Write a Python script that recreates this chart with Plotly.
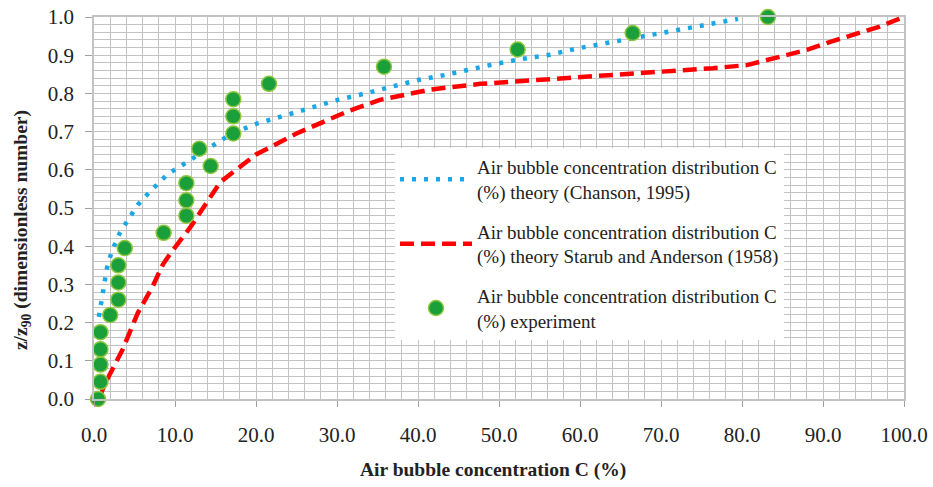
import plotly.graph_objects as go

# Chanson (1995) theory - blue dotted
chanson_x = [0.6, 1.0, 1.2, 1.6, 2.2, 3.2, 4.2, 5.4, 7.0, 8.0, 9.1, 10.5, 11.9, 14.0, 17.0,
             20.0, 23.0, 26.7, 30.1, 33.5, 36.8, 40.0, 43.3, 46.4, 49.5, 52.8, 56.0, 60.0,
             63.3, 66.5, 69.9, 73.0, 76.3, 79.5]
chanson_y = [0.215, 0.26, 0.298, 0.343, 0.387, 0.435, 0.469, 0.508, 0.545, 0.565, 0.589, 0.607,
             0.626, 0.655, 0.695, 0.72, 0.738, 0.762, 0.783, 0.80, 0.817, 0.835, 0.848, 0.864,
             0.877, 0.89, 0.90, 0.919, 0.932, 0.945, 0.958, 0.969, 0.982, 0.995]

# Straub and Anderson (1958) theory - red dashed
straub_x = [0.6, 1.4, 3.5, 5.4, 7.2, 8.5, 9.4, 11.9, 15.6, 20.0, 25.0, 31.2, 35.3, 41.5, 47.7,
            53.8, 60.0, 66.2, 72.0, 76.4, 80.6, 83.8, 88.0, 90.9, 94.2, 97.0, 100.0]
straub_y = [0.0, 0.042, 0.128, 0.225, 0.293, 0.352, 0.38, 0.45, 0.568, 0.64, 0.695, 0.752,
            0.783, 0.81, 0.825, 0.834, 0.843, 0.851, 0.858, 0.866, 0.874, 0.89, 0.914, 0.935,
            0.958, 0.975, 1.0]

# Experiment - green points
exp_x = [0.5, 0.8, 0.8, 0.8, 0.8, 2.0, 3.0, 3.0, 3.0, 3.8, 8.6, 11.4, 11.4, 11.4, 13.0, 14.4,
         17.2, 17.2, 17.2, 21.6, 35.8, 52.3, 66.5, 83.2]
exp_y = [0.0, 0.045, 0.09, 0.13, 0.175, 0.22, 0.26, 0.305, 0.35, 0.395, 0.435, 0.48, 0.52,
         0.565, 0.655, 0.61, 0.695, 0.74, 0.785, 0.825, 0.87, 0.915, 0.958, 1.0]

names = [
    "Air bubble concentration distribution C<br>(%) theory (Chanson, 1995)",
    "Air bubble concentration distribution C<br>(%) theory Starub and Anderson (1958)",
    "Air bubble concentration distribution C<br>(%) experiment",
]

SERIF = "Liberation Serif, Times New Roman, serif"
TXT = "#222222"
GRID = "#c3c3c3"

fig = go.Figure()
fig.add_trace(go.Scatter(x=chanson_x, y=chanson_y, mode="lines", name=names[0],
                         line=dict(color="#1aa7e6", width=4.5, dash="4px,8px"),
                         legendrank=1, legendgroup="a"))
fig.add_trace(go.Scatter(x=straub_x, y=straub_y, mode="lines", name=names[1],
                         line=dict(color="#ff0000", width=4.5, dash="14px,7px"),
                         legendrank=2, legendgroup="b"))
fig.add_trace(go.Scatter(x=exp_x, y=exp_y, mode="markers", name=names[2],
                         marker=dict(size=15, color="#1a9f3a",
                                     line=dict(color="#8cc63f", width=1.5)),
                         legendrank=3, legendgroup="c", cliponaxis=False))

fig.update_layout(
    template="none",
    width=933, height=487,
    margin=dict(l=94, r=29, t=17, b=88, autoexpand=False),
    paper_bgcolor="white", plot_bgcolor="white",
    font=dict(family=SERIF, size=19, color=TXT),
    showlegend=True,
    legend=dict(x=0.3716, y=0.657, xanchor="left", yanchor="top",
                bgcolor="white", borderwidth=0,
                font=dict(family=SERIF, size=19, color=TXT),
                itemwidth=72, tracegroupgap=12, traceorder="grouped"),
    xaxis=dict(range=[0, 100], dtick=10, tickformat=".1f", automargin=False,
               showgrid=True, gridcolor=GRID, gridwidth=1.3,
               minor=dict(dtick=2, showgrid=True, gridcolor=GRID, gridwidth=1.3),
               showline=True, linecolor=GRID, linewidth=1.5,
               ticks="outside", ticklen=6, tickcolor="#a0a0a0",
               tickfont=dict(family=SERIF, size=21, color=TXT),
               ticklabeloverflow="allow",
               zeroline=False, mirror=True, ticklabelstandoff=10),
    yaxis=dict(range=[0, 1.0], dtick=0.1, tickformat=".1f", automargin=False,
               showgrid=True, gridcolor=GRID, gridwidth=1.3,
               minor=dict(dtick=0.02, showgrid=True, gridcolor=GRID, gridwidth=1.3),
               showline=True, linecolor=GRID, linewidth=1.5,
               ticks="outside", ticklen=7, tickcolor="#a0a0a0",
               tickfont=dict(family=SERIF, size=21, color=TXT),
               ticklabeloverflow="allow",
               zeroline=False, mirror=True, ticklabelstandoff=7),
    annotations=[
        dict(text="<b>Air bubble concentration C (%)</b>", xref="paper", yref="paper",
             x=0.4926, y=-0.186, xanchor="center", yanchor="middle", showarrow=False,
             font=dict(family=SERIF, size=19.5, color=TXT)),
        dict(text="<b>z/z<sub>90</sub> (dimensionless number)</b>", xref="paper", yref="paper",
             x=-0.089, y=0.442, xanchor="center", yanchor="middle", showarrow=False,
             textangle=-90, font=dict(family=SERIF, size=19.5, color=TXT)),
    ],
)

fig.write_html("out.html", config={"displayModeBar": False},
               post_script="document.body.style.margin='0px';")
